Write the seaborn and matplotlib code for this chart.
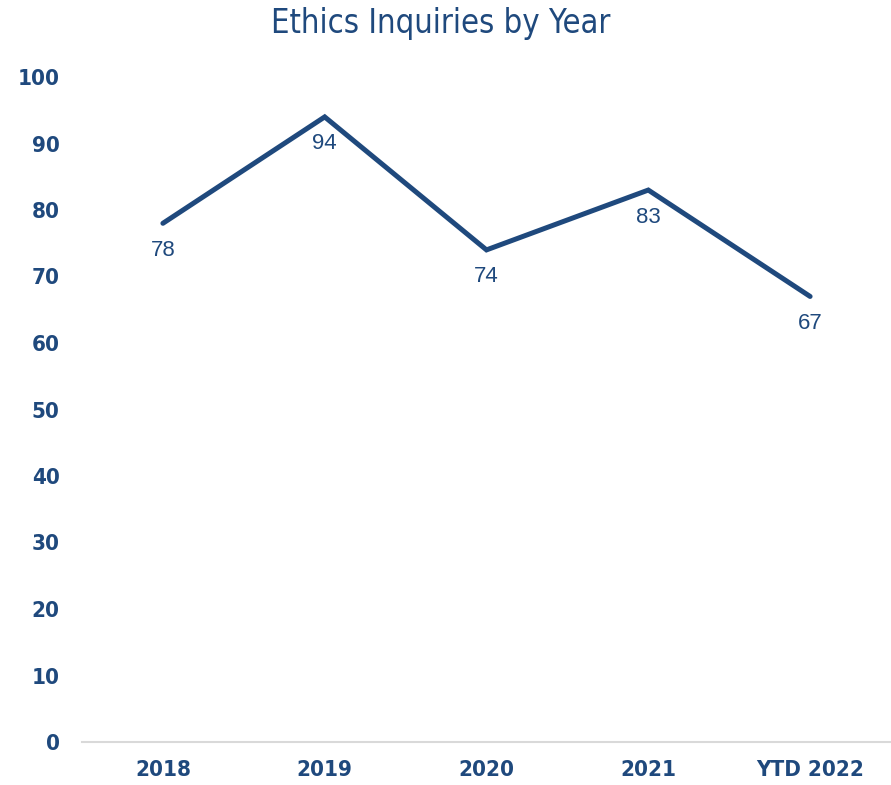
import matplotlib
matplotlib.use("Agg")
import matplotlib.pyplot as plt
import seaborn as sns
import pandas as pd

# ==============================
# DATA
# ==============================
years = ["2018", "2019", "2020", "2021", "YTD 2022"]
inquiries = [78, 94, 74, 83, 67]
y_ticks = [0, 10, 20, 30, 40, 50, 60, 70, 80, 90, 100]

navy = "#1F497D"

sns.set_theme(style="white")
plt.rcParams["font.family"] = ["DejaVu Sans"]

df = pd.DataFrame({"year": years, "count": inquiries})

fig = plt.figure(figsize=(8.91, 7.85), dpi=100)
ax = fig.add_axes([82 / 891, 1 - 742 / 785, 1 - 82 / 891, (742 - 77) / 785])

sns.lineplot(data=df, x="year", y="count", ax=ax, color=navy, linewidth=3.6,
             sort=False, solid_capstyle="round", solid_joinstyle="miter")

# value labels sit below each point
for i, v in enumerate(inquiries):
    ax.annotate(str(v), (i, v), xytext=(0, -19.5), textcoords="offset points",
                ha="center", va="center", fontsize=16, color=navy,
                family=["Liberation Sans", "DejaVu Sans"])

ax.set_xlim(-0.5, len(years) - 0.5)
ax.set_ylim(0, 100)
ax.set_yticks(y_ticks)
ax.set_xlabel("")
ax.set_ylabel("")

for s in ["top", "right", "left"]:
    ax.spines[s].set_visible(False)
ax.spines["bottom"].set_color("#D9D9D9")
ax.spines["bottom"].set_linewidth(1.5)
ax.tick_params(axis="both", length=0, labelcolor=navy, labelsize=16)
ax.tick_params(axis="x", pad=13)
ax.tick_params(axis="y", pad=16)
for lbl in ax.get_xticklabels() + ax.get_yticklabels():
    lbl.set_fontstretch("condensed")
    lbl.set_fontweight("bold")

fig.text(0.495, 1 - 24 / 785, "Ethics Inquiries by Year", ha="center", va="center",
         fontsize=23.5, color=navy, fontstretch="condensed")

fig.savefig("out.png", dpi=100, facecolor="white")
